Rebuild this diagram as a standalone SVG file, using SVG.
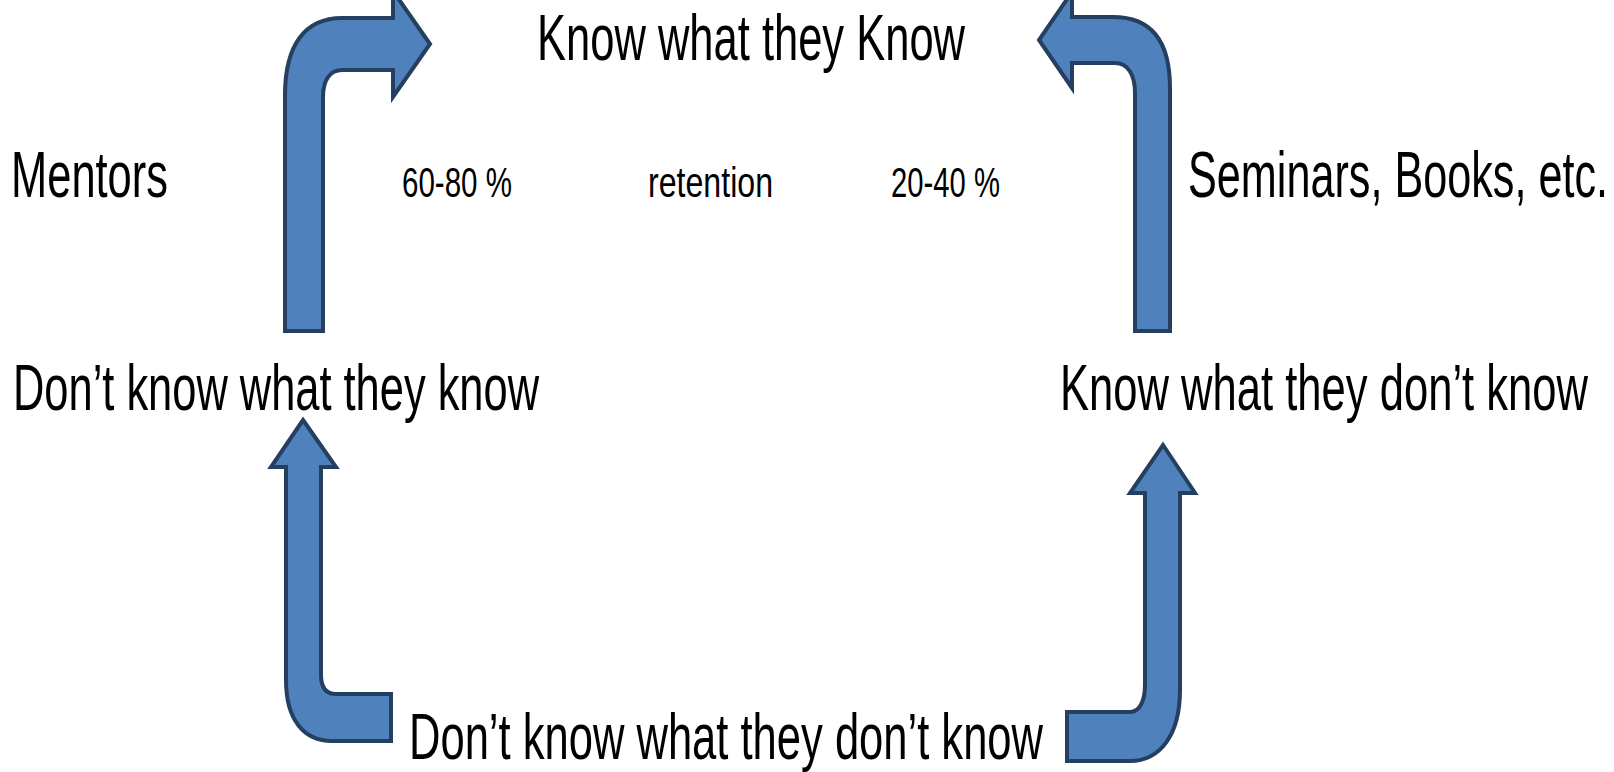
<svg xmlns="http://www.w3.org/2000/svg" width="1614" height="772" viewBox="0 0 1614 772">
<style>
.lbl{font-family:"Liberation Sans",Arial,sans-serif;font-size:64px;fill:#000}
.sm{font-family:"Liberation Sans",Arial,sans-serif;font-size:42px;fill:#000}
.arr{fill:#4F81BD;stroke:#243F60;stroke-width:4;stroke-linejoin:miter}
</style>
<rect width="1614" height="772" fill="#fff"/>
<g id="connectors">
<path class="arr" d="M285,331 V95 C285,45 305,18 342,18 H393 V-9 L430,44 L393,97 V70 H342 C330,70 323,80 323,97 V331 Z"/>
<path class="arr" d="M1170,331 V88 C1170,40 1150,17 1113,17 H1072 V-8 L1039,40 L1072,88 V63 H1115 C1128,63 1135,75 1135,93 V331 Z"/>
<path class="arr" d="M303,420 L336,467 H321 V675 C321,688 326,694 336,694 H391 V741 H332 C304,741 286,720 286,680 V467 H271 Z"/>
<path class="arr" d="M1163,445 L1195,493 H1180 V690 C1180,735 1160,761 1130,761 H1067 V712 H1130 C1140,712 1145,700 1145,685 V493 H1130 Z"/>
</g>
<g id="node-know-know"><text class="lbl" x="537" y="60" textLength="428" lengthAdjust="spacingAndGlyphs">Know what they Know</text></g>
<g id="label-mentors"><text class="lbl" x="11" y="197" textLength="157" lengthAdjust="spacingAndGlyphs">Mentors</text></g>
<g id="label-6080"><text class="sm" x="402" y="197" textLength="110" lengthAdjust="spacingAndGlyphs">60-80 %</text></g>
<g id="label-retention"><text class="sm" x="648" y="197" textLength="125" lengthAdjust="spacingAndGlyphs">retention</text></g>
<g id="label-2040"><text class="sm" x="891" y="197" textLength="109" lengthAdjust="spacingAndGlyphs">20-40 %</text></g>
<g id="label-seminars"><text class="lbl" x="1188" y="197" textLength="420" lengthAdjust="spacingAndGlyphs">Seminars, Books, etc.</text></g>
<g id="node-dont-know-know"><text class="lbl" x="13" y="410" textLength="526" lengthAdjust="spacingAndGlyphs">Don’t know what they know</text></g>
<g id="node-know-dont-know"><text class="lbl" x="1060" y="410" textLength="528" lengthAdjust="spacingAndGlyphs">Know what they don’t know</text></g>
<g id="node-dont-know-dont-know"><text class="lbl" x="409" y="759" textLength="634" lengthAdjust="spacingAndGlyphs">Don’t know what they don’t know</text></g>
</svg>
